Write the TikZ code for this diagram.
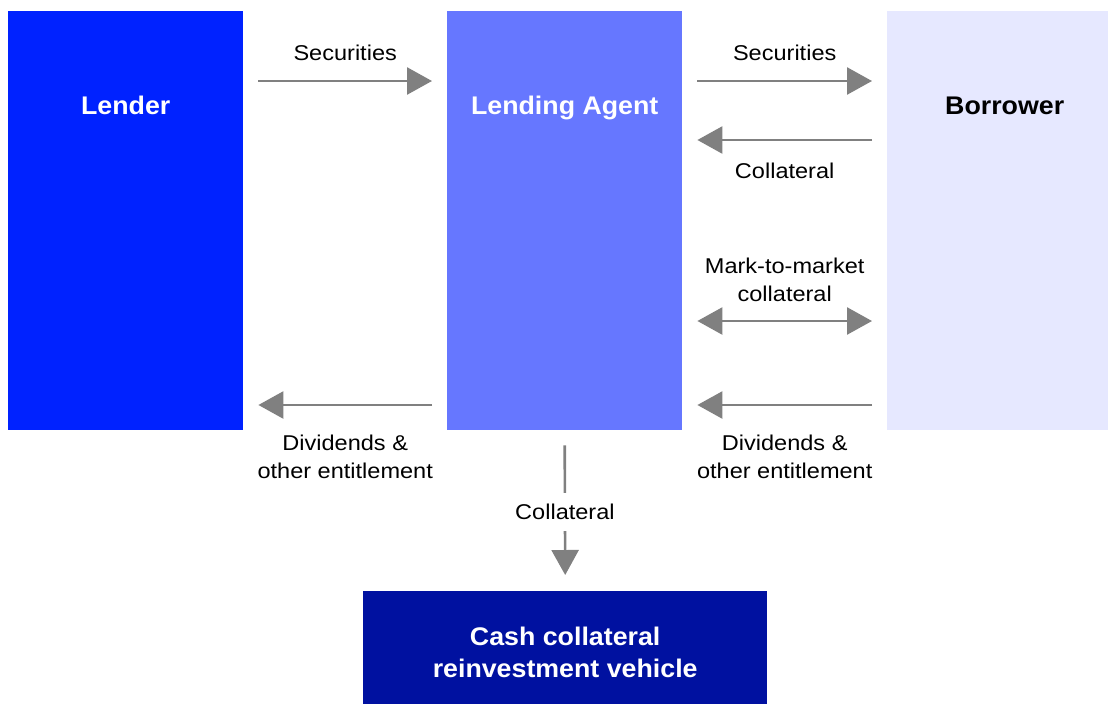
\documentclass[tikz,border=0pt]{standalone}
\usepackage{fontspec}
\setmainfont[FakeStretch=1.1]{Liberation Sans}
\newfontfamily\boxfont[FakeStretch=1.05]{Liberation Sans}
\usetikzlibrary{arrows.meta}
\definecolor{lenderblue}{RGB}{0,34,255}
\definecolor{agentblue}{RGB}{102,119,255}
\definecolor{borrowerblue}{RGB}{230,232,255}
\definecolor{cashblue}{RGB}{0,17,160}
\definecolor{arrowgrey}{RGB}{128,128,128}
\begin{document}
\begin{tikzpicture}[x=1pt,y=-1pt,
 >={Triangle[length=25pt,width=27pt]},
 party/.style={rectangle,inner sep=0pt,anchor=north west,minimum width=235pt,minimum height=419pt},
 boxtxt/.style={font=\boxfont\bfseries\fontsize{25.5}{32}\selectfont,anchor=base,inner sep=0pt,align=center},
 lbl/.style={font=\fontsize{21.4}{28}\selectfont,inner sep=0pt,align=center,text=black},
 flow/.style={draw=arrowgrey,line width=2.6pt}]

 \useasboundingbox (0,0) rectangle (1108,704);

 % the three parties
 \node[party,fill=lenderblue] (lender) at (8,11) {};
 \node[party,fill=agentblue] (agent) at (447,11) {};
 \node[party,fill=borrowerblue] (borrower) at (887,11) {};
 \node[boxtxt,text=white] (lendertxt) at ([shift={(0,103)}]lender.north) {Lender};
 \node[boxtxt,text=white] (agenttxt) at ([shift={(0,103)}]agent.north) {Lending Agent};
 \node[boxtxt,text=black] (borrowertxt) at ([shift={(0,103)}]borrower.north) {Borrower};

 % reinvestment vehicle
 \node[party,fill=cashblue,minimum width=404pt,minimum height=113pt] (cash) at (363,591) {};
 \node[boxtxt,text=white,anchor=center] (cashtxt) at ([shift={(0,5)}]cash.center)
  {Cash collateral\\reinvestment vehicle};

 % flows
 \draw[flow,->] ([shift={(15,70)}]lender.north east)
  -- node[lbl,above=19pt] (sec1) {Securities} ([shift={(-15,70)}]agent.north west);
 \draw[flow,->] ([shift={(15,70)}]agent.north east)
  -- node[lbl,above=19pt] (sec2) {Securities} ([shift={(-15,70)}]borrower.north west);
 \draw[flow,->] ([shift={(-15,129)}]borrower.north west)
  -- node[lbl,below=22pt] (coll1) {Collateral} ([shift={(15,129)}]agent.north east);
 \draw[flow,<->] ([shift={(15,310)}]agent.north east)
  -- node[lbl,above=18pt] (mtm) {Mark-to-market\\collateral} ([shift={(-15,310)}]borrower.north west);
 \draw[flow,->] ([shift={(-15,394)}]agent.north west)
  -- node[lbl,below=29pt] (div1) {Dividends \&\\other entitlement} ([shift={(15,394)}]lender.north east);
 \draw[flow,->] ([shift={(-15,394)}]borrower.north west)
  -- node[lbl,below=29pt] (div2) {Dividends \&\\other entitlement} ([shift={(15,394)}]agent.north east);
 \draw[flow,->] ([shift={(0,15)}]agent.south)
  -- node[lbl,fill=white,inner ysep=11pt,yshift=-2pt] (coll2) {Collateral} ([shift={(0,-16)}]cash.north);

\end{tikzpicture}
\end{document}
